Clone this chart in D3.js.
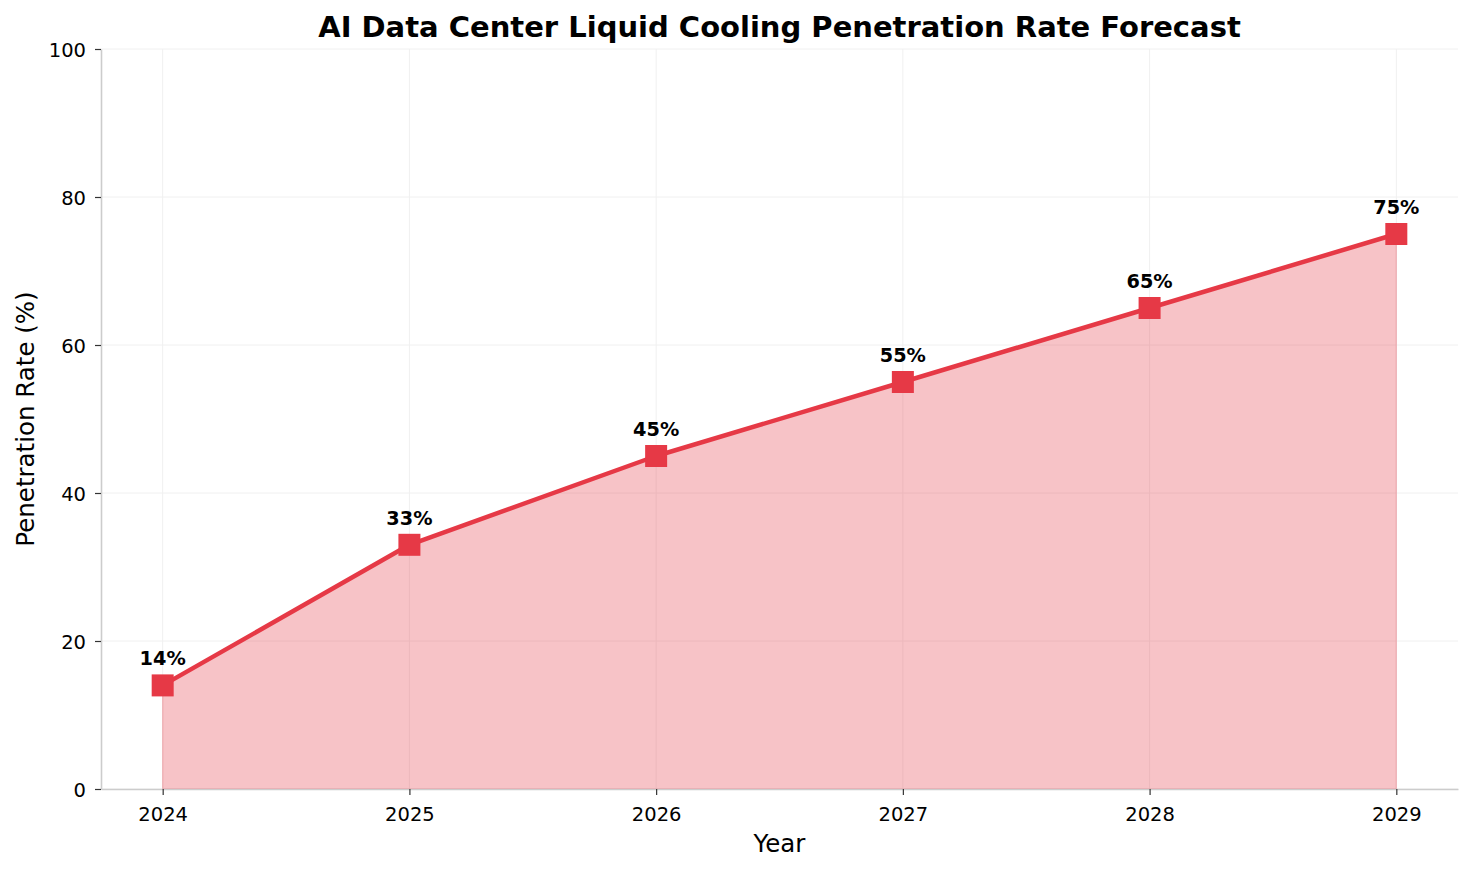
<!DOCTYPE html>
<html><head><meta charset="utf-8">
<script src="https://cdn.jsdelivr.net/npm/d3@7"></script>
<style>body{margin:0;background:#fff;font-family:"DejaVu Sans",sans-serif;}</style>
</head><body><svg id="c" width="1473" height="871"></svg>
<script>
const years = [2024, 2025, 2026, 2027, 2028, 2029];
const rates = [14, 33, 45, 55, 65, 75];
const yTicks = [0, 20, 40, 60, 80, 100];
const title = "AI Data Center Liquid Cooling Penetration Rate Forecast";
const xLabel = "Year";
const yLabel = "Penetration Rate (%)";

const svg = d3.select("#c");
const m = {l: 101, r: 1458, t: 49, b: 789};
const x = d3.scaleLinear().domain([2023.75, 2029.25]).range([m.l, m.r]);
const y = d3.scaleLinear().domain([0, 100]).range([m.b, m.t]);
const col = "#e63946";
const data = years.map((d, i) => ({year: d, v: rates[i]}));

// grid
const g = svg.append("g");
g.selectAll(".gx").data(years).join("line")
  .attr("x1", d => x(d)).attr("x2", d => x(d)).attr("y1", m.t).attr("y2", m.b)
  .attr("stroke", "#f0f0f0").attr("stroke-width", 1);
g.selectAll(".gy").data(yTicks).join("line")
  .attr("x1", m.l).attr("x2", m.r).attr("y1", d => y(d)).attr("y2", d => y(d))
  .attr("stroke", "#f0f0f0").attr("stroke-width", 1);

// area
svg.append("path").datum(data)
  .attr("d", d3.area().x(d => x(d.year)).y0(y(0)).y1(d => y(d.v)))
  .attr("fill", col).attr("fill-opacity", 0.3)
  .attr("stroke", col).attr("stroke-opacity", 0.3).attr("stroke-width", 1);

// line
svg.append("path").datum(data)
  .attr("d", d3.line().x(d => x(d.year)).y(d => y(d.v)))
  .attr("fill", "none").attr("stroke", col).attr("stroke-width", 4.5)
  .attr("stroke-linejoin", "round");

// markers
svg.selectAll(".mk").data(data).join("rect")
  .attr("x", d => x(d.year) - 11).attr("y", d => y(d.v) - 11)
  .attr("width", 22).attr("height", 22).attr("fill", col);

// labels
svg.selectAll(".lb").data(data).join("text")
  .attr("x", d => x(d.year)).attr("y", d => y(d.v) - 20)
  .attr("text-anchor", "middle").attr("font-weight", "bold").attr("font-size", 19.3)
  .attr("fill", "#000").text(d => d.v + "%");

// axes
const xa = svg.append("g").attr("transform", `translate(0,${m.b})`)
  .call(d3.axisBottom(x).tickValues(years).tickFormat(d3.format("d")).tickSize(6).tickSizeOuter(0));
const ya = svg.append("g").attr("transform", `translate(${m.l},0)`)
  .call(d3.axisLeft(y).tickValues(yTicks).tickSize(6).tickSizeOuter(0));
[xa, ya].forEach(a => {
  a.select(".domain").attr("stroke", "#cccccc").attr("stroke-width", 1.6);
  a.selectAll(".tick line").attr("stroke", "#333").attr("stroke-width", 1.2);
  a.selectAll(".tick text").attr("font-size", 19.5).attr("fill", "#000")
    .attr("font-family", "DejaVu Sans, sans-serif");
});
xa.selectAll(".tick text").attr("y", 32).attr("dy", 0);
ya.selectAll(".tick text").attr("x", -15).attr("dy", "0.36em");

svg.append("text").attr("x", (m.l + m.r) / 2).attr("y", 37).attr("text-anchor", "middle")
  .attr("font-size", 29).attr("font-weight", "bold").text(title);
svg.append("text").attr("x", (m.l + m.r) / 2).attr("y", 852).attr("text-anchor", "middle")
  .attr("font-size", 24.5).text(xLabel);
svg.append("text").attr("transform", `translate(34,${(m.t + m.b) / 2}) rotate(-90)`)
  .attr("text-anchor", "middle").attr("font-size", 24.5).text(yLabel);
</script></body></html>
